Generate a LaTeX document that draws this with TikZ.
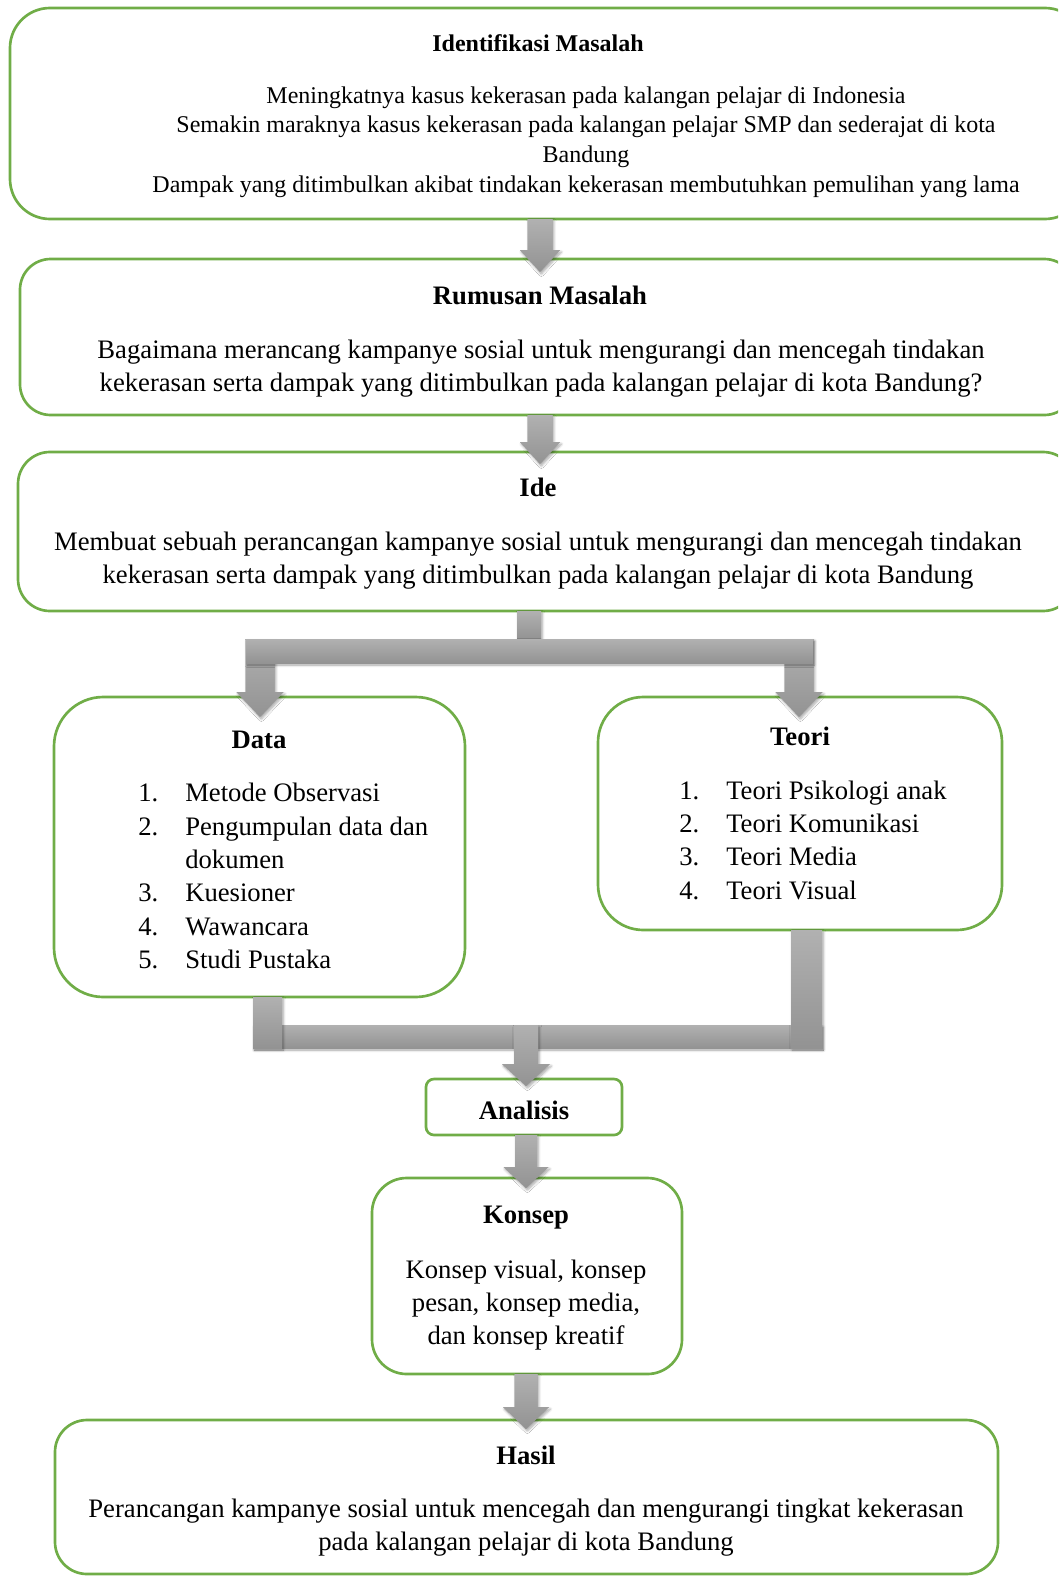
\documentclass[tikz,border=0pt]{standalone}
\usepackage{fontspec}
\setmainfont{Liberation Serif}
\usetikzlibrary{calc,shadows.blur}
\definecolor{boxgreen}{RGB}{112,173,71}
\definecolor{arrgray}{RGB}{163,163,163}
\newcommand{\blkarrow}[5]{%
  \path[arrowshape] let \p1=(#1), \p2=(#2) in
   (\x1-#3*0.75pt,\y1) -- (\x1+#3*0.75pt,\y1) -- (\x1+#3*0.75pt,\y2+#5*0.75pt)
   -- (\x1+#4*0.75pt,\y2+#5*0.75pt) -- (\x1,\y2) -- (\x1-#4*0.75pt,\y2+#5*0.75pt)
   -- (\x1-#3*0.75pt,\y2+#5*0.75pt) -- cycle;}
\tikzset{
  greenbox/.style={draw=boxgreen, line width=2pt, fill=white, inner sep=0pt, outer sep=0pt},
  arrowshape/.style={fill=arrgray, top color=arrgray!85!white, bottom color=arrgray!90!black,
     blur shadow={shadow blur steps=6, shadow xshift=1pt, shadow yshift=-1.5pt, shadow opacity=35}},
  ttlsmall/.style={font=\fontsize{18pt}{22pt}\selectfont\bfseries, inner sep=0pt},
  txtsmall/.style={font=\fontsize{18pt}{22.3pt}\selectfont, inner sep=0pt, align=center},
  ttl/.style={font=\fontsize{20pt}{24.75pt}\selectfont\bfseries, inner sep=0pt},
  txt/.style={font=\fontsize{20pt}{24.75pt}\selectfont, inner sep=0pt, align=center},
  listtxt/.style={font=\fontsize{20pt}{25pt}\selectfont, inner sep=0pt, align=left, anchor=west},
}
\newcommand{\itm}[1]{\makebox[35.25pt][l]{#1}}
\begin{document}
\begin{tikzpicture}[x=0.75pt,y=-0.75pt]
\useasboundingbox (0,0) rectangle (1058,1577);
\clip (0,0) rectangle (1058,1577);

% boxes
\node[greenbox, rounded corners=30pt, minimum width=1075*0.75pt, minimum height=211*0.75pt] (b1) at (547.5,113.5) {};
\node[greenbox, rounded corners=23pt, minimum width=1055*0.75pt, minimum height=156*0.75pt] (b2) at (547.5,337) {};
\node[greenbox, rounded corners=24pt, minimum width=1057*0.75pt, minimum height=159*0.75pt] (b3) at (546.5,531.5) {};
\node[greenbox, rounded corners=37pt, minimum width=411*0.75pt, minimum height=300*0.75pt] (data) at (259.5,847) {};
\node[greenbox, rounded corners=34pt, minimum width=404*0.75pt, minimum height=233*0.75pt] (teori) at (800,813.5) {};
\node[greenbox, rounded corners=6pt, minimum width=196*0.75pt, minimum height=56*0.75pt] (anal) at (524,1107) {};
\node[greenbox, rounded corners=26pt, minimum width=310*0.75pt, minimum height=196*0.75pt] (konsep) at (527,1276) {};
\node[greenbox, rounded corners=24pt, minimum width=943*0.75pt, minimum height=154*0.75pt] (hasil) at (526.5,1497) {};

% helper x positions
\coordinate (x540) at (540,0);
\coordinate (x529) at (529,0);
\coordinate (x260) at (260,0);
\coordinate (x799) at (799,0);
\coordinate (x526) at (526,0);
\coordinate (x791) at (791,0);

% arrows between stacked boxes
\coordinate (a1s) at (b1.south -| x540);
\coordinate (a1e) at ($(b2.north -| x540)+(0,13)$);
\blkarrow{a1s}{a1e}{12.5}{20}{22}
\coordinate (a2s) at (b2.south -| x540);
\coordinate (a2e) at ($(b3.north -| x540)+(0,12)$);
\blkarrow{a2s}{a2e}{12.5}{20}{22}

% branch from Ide
\coordinate (brs) at (b3.south -| x529);
\coordinate (brl) at (246,639);
\coordinate (brr) at (813,663);
\coordinate (l1s) at (260,639);
\coordinate (l1e) at ($(data.north -| x260)+(0,20)$);
\coordinate (r1s) at (799,639);
\coordinate (r1e) at ($(teori.north -| x799)+(0,20)$);
\path[arrowshape] ($(brs)+(-12,0)$) rectangle ($(brs |- brl)+(12,0)$);
\blkarrow{l1s}{l1e}{14.5}{23.5}{25}
\blkarrow{r1s}{r1e}{14.5}{23.5}{25}
\path[arrowshape] (brl) rectangle (brr);

% merge to Analisis
\coordinate (ml) at (253,1025);
\coordinate (mr) at (822,1048);
\path[arrowshape] (ml) rectangle (mr);
\path[arrowshape] (data.south -| ml) rectangle (282,1048);
\path[arrowshape] (teori.south -| x791) rectangle (mr);
\coordinate (m1s) at (526,1025);
\coordinate (m1e) at ($(anal.north -| x526)+(0,7)$);
\blkarrow{m1s}{m1e}{12}{24}{22}

% Analisis -> Konsep -> Hasil
\coordinate (a3s) at (anal.south -| x526);
\coordinate (a3e) at ($(konsep.north -| x526)+(0,10)$);
\blkarrow{a3s}{a3e}{11}{22.5}{21}
\coordinate (a4s) at (konsep.south -| x526);
\coordinate (a4e) at ($(hasil.north -| x526)+(0,9)$);
\blkarrow{a4s}{a4e}{11.5}{23}{22}

% texts
\node[ttlsmall] (t1) at (538,43) {Identifikasi Masalah};
\node[txtsmall] (p1) at (586,142) {Meningkatnya kasus kekerasan pada kalangan pelajar di Indonesia\\
Semakin maraknya kasus kekerasan pada kalangan pelajar SMP dan sederajat di kota\\
Bandung\\
Dampak yang ditimbulkan akibat tindakan kekerasan membutuhkan pemulihan yang lama};

\node[ttl] (t2) at (540,295) {Rumusan Masalah};
\node[txt] (p2) at (541,368.5) {Bagaimana merancang kampanye sosial untuk mengurangi dan mencegah tindakan\\
kekerasan serta dampak yang ditimbulkan pada kalangan pelajar di kota Bandung?};

\node[ttl] (t3) at (538,487) {Ide};
\node[txt] (p3) at (538,560.5) {Membuat sebuah perancangan kampanye sosial untuk mengurangi dan mencegah tindakan\\
kekerasan serta dampak yang ditimbulkan pada kalangan pelajar di kota Bandung};

\node[ttl] (t4) at (259,740) {Data};
\node[listtxt] (p4) at (138,876) {\itm{1.}Metode Observasi\\
\itm{2.}Pengumpulan data dan\\
\itm{}dokumen\\
\itm{3.}Kuesioner\\
\itm{4.}Wawancara\\
\itm{5.}Studi Pustaka};

\node[ttl] (t5) at (800,736) {Teori};
\node[listtxt] (p5) at (679,840) {\itm{1.}Teori Psikologi anak\\
\itm{2.}Teori Komunikasi\\
\itm{3.}Teori Media\\
\itm{4.}Teori Visual};

\node[ttl] (t6) at (524,1110) {Analisis};

\node[ttl] (t7) at (526,1218) {Konsep};
\node[txt] (p7) at (526,1305.5) {Konsep visual, konsep\\
pesan, konsep media,\\
dan konsep kreatif};

\node[ttl] (t8) at (526,1455) {Hasil};
\node[txt] (p8) at (526,1527.5) {Perancangan kampanye sosial untuk mencegah dan mengurangi tingkat kekerasan\\
pada kalangan pelajar di kota Bandung};
\end{tikzpicture}
\end{document}
